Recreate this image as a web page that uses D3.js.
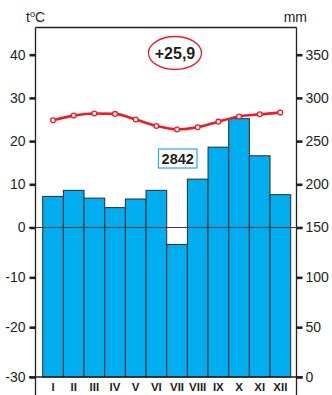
<!DOCTYPE html>
<html>
<head>
<meta charset="utf-8">
<script src="https://cdn.jsdelivr.net/npm/d3@7"></script>
<style>
  html, body { margin: 0; padding: 0; background: #fff; }
  svg { display: block; }
  text { font-family: "Liberation Sans", Arial, sans-serif; fill: #231f20; }
</style>
</head>
<body>
<svg id="chart" width="332" height="395"></svg>
<script>
// Monthly climate data
const months = ["I", "II", "III", "IV", "V", "VI", "VII", "VIII", "IX", "X", "XI", "XII"];
const temperature = [24.8, 25.9, 26.4, 26.3, 25.0, 23.5, 22.7, 23.2, 24.5, 25.7, 26.2, 26.6];   // °C
const precipitation = [186, 193, 184, 173, 183, 193, 133, 206, 243, 276, 233, 188];           // mm
const tempTicks = [-30, -20, -10, 0, 10, 20, 30, 40];
const precipTicks = [0, 50, 100, 150, 200, 250, 300, 350];
const meanTempLabel = "+25,9";
const annualPrecipLabel = "2842";

const svg = d3.select("#chart");

// Frame and plot extents
const frameL = 35.5, frameR = 296.5, frameT = 27.5, frameB = 395;
const yBottom = 377, yZero = 227.5, yTop40 = 54.7;

// Climate-diagram scales: temperature and precipitation share one vertical axis
const yT = d3.scaleLinear().domain([-30, 0, 40]).range([yBottom, yZero, yTop40]);
const yP = d3.scaleLinear().domain([0, 150, 350]).range([yBottom, yZero, yTop40]);
const x = d3.scaleBand().domain(months).range([42.7, 290.7]).paddingInner(0).paddingOuter(0);

// Precipitation bars
svg.append("g").selectAll("rect").data(precipitation).join("rect")
  .attr("x", (d, i) => x(months[i]))
  .attr("y", d => yP(d))
  .attr("width", x.bandwidth())
  .attr("height", d => yP(0) - yP(d))
  .attr("fill", "#00adee")
  .attr("stroke", "#2b2b2b")
  .attr("stroke-width", 1);

// Frame
const frame = svg.append("g").attr("stroke", "#231f20").attr("stroke-width", 1.3).attr("fill", "none");
frame.append("line").attr("x1", frameL).attr("x2", frameL).attr("y1", frameT).attr("y2", frameB);
frame.append("line").attr("x1", frameR).attr("x2", frameR).attr("y1", frameT).attr("y2", frameB);
frame.append("line").attr("x1", frameL).attr("x2", frameR).attr("y1", frameT).attr("y2", frameT);
frame.append("line").attr("x1", 29).attr("x2", 303).attr("y1", yT(-30)).attr("y2", yT(-30));

// Zero line
svg.append("line").attr("x1", 29).attr("x2", 303).attr("y1", yT(0)).attr("y2", yT(0))
  .attr("stroke", "#3a3a3a").attr("stroke-width", 1.1);

// Axes (plain hyphen for negative values)
const leftAxis = svg.append("g").attr("transform", `translate(${frameL},0)`)
  .call(d3.axisLeft(yT).tickValues(tempTicks).tickSize(6).tickPadding(4).tickFormat(d => String(d)));
const rightAxis = svg.append("g").attr("transform", `translate(${frameR},0)`)
  .call(d3.axisRight(yP).tickValues(precipTicks).tickSize(6).tickPadding(3).tickFormat(d => String(d)));
[leftAxis, rightAxis].forEach(a => {
  a.select(".domain").remove();
  a.selectAll(".tick line").attr("stroke", "#231f20").attr("stroke-width", 2.6);
  a.selectAll(".tick text").attr("font-size", 14).attr("fill", "#231f20")
    .attr("font-family", "'Liberation Sans', Arial, sans-serif");
});

// Month labels
svg.append("g").selectAll("text").data(months).join("text")
  .attr("x", d => x(d) + x.bandwidth() / 2)
  .attr("y", 391)
  .attr("text-anchor", "middle")
  .attr("font-size", 11.5)
  .attr("font-weight", "bold")
  .attr("font-family", "'Liberation Sans Narrow', 'Liberation Sans', Arial, sans-serif")
  .text(d => d);

// Temperature curve
const line = d3.line()
  .x((d, i) => x(months[i]) + x.bandwidth() / 2)
  .y(d => yT(d))
  .curve(d3.curveMonotoneX);
svg.append("path").datum(temperature)
  .attr("d", line)
  .attr("fill", "none")
  .attr("stroke", "#ed1c24")
  .attr("stroke-width", 2.6);
svg.append("g").selectAll("circle").data(temperature).join("circle")
  .attr("cx", (d, i) => x(months[i]) + x.bandwidth() / 2)
  .attr("cy", d => yT(d))
  .attr("r", 2.4)
  .attr("fill", "#fff")
  .attr("stroke", "#ed1c24")
  .attr("stroke-width", 1.3);

// Axis titles
const tTitle = svg.append("text").attr("x", 26).attr("y", 22).attr("font-size", 14);
tTitle.append("tspan").text("t");
tTitle.append("tspan").attr("font-size", 9).attr("dy", -5).text("o");
tTitle.append("tspan").attr("dy", 5).text("C");
svg.append("text").attr("x", 307).attr("y", 22).attr("text-anchor", "end").attr("font-size", 14).text("mm");

// Mean annual temperature
svg.append("ellipse").attr("cx", 175).attr("cy", 53).attr("rx", 26.5).attr("ry", 16.5)
  .attr("fill", "none").attr("stroke", "#ed1c24").attr("stroke-width", 1.3);
svg.append("text").attr("x", 175).attr("y", 59).attr("text-anchor", "middle")
  .attr("font-size", 16).attr("font-weight", "bold").text(meanTempLabel);

// Annual precipitation
svg.append("rect").attr("x", 158.5).attr("y", 149).attr("width", 38.5).attr("height", 19)
  .attr("fill", "#fff").attr("stroke", "#29aae1").attr("stroke-width", 1.2);
svg.append("text").attr("x", 177.7).attr("y", 164).attr("text-anchor", "middle")
  .attr("font-size", 14.5).attr("font-weight", "bold").text(annualPrecipLabel);
</script>
</body>
</html>
